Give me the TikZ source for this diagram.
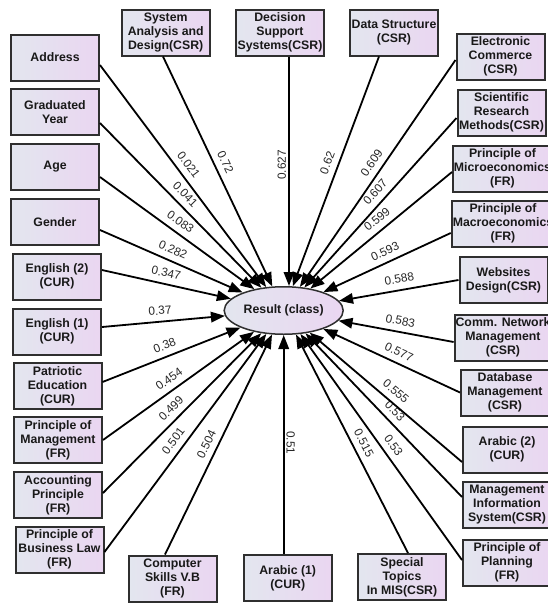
\documentclass[tikz,border=0pt]{standalone}
\usepackage{fontspec}
\setmainfont{Liberation Sans}
\usetikzlibrary{arrows.meta, shapes.geometric}
\definecolor{cleft}{HTML}{E3E6EF}
\definecolor{cright}{HTML}{EAD6F1}
\definecolor{cedge}{HTML}{2F2F2F}

\tikzset{
  var/.style={draw=cedge, line width=2pt, left color=cleft, right color=cright,
    minimum width=88pt, minimum height=46pt, inner sep=1pt, align=center,
    font=\bfseries\fontsize{12.3}{14}\selectfont, text=black!90},
  outcome/.style={ellipse, draw=cedge, line width=1.5pt, left color=cleft, right color=cright,
    minimum width=119pt, minimum height=47.5pt, inner sep=0pt,
    font=\bfseries\fontsize{12.3}{14}\selectfont, text=black!90},
  link/.style={line width=1.8pt, draw=black, -{Triangle[length=14pt,width=10.5pt]}},
  coef/.style={font=\fontsize{11.8}{12}\selectfont, text=black!85, sloped, above=4pt, pos=0.48, inner sep=2pt},
  coefv/.style={font=\fontsize{11.8}{12}\selectfont, text=black!85, above=4pt, pos=0.49, inner sep=2pt}
}

\begin{document}
\begin{tikzpicture}[x=1pt, y=1pt]
  \useasboundingbox (0,0) rectangle (548,-603);

  % Result
  \node[outcome] (result) at (283.7,-310.5) {Result (class)};

  % Left column
  \node[var] (addr)    at (55,-57.5)   {Address};
  \node[var] (gyear)   at (55,-112)    {Graduated\\Year};
  \node[var] (age)     at (55,-167)    {Age};
  \node[var] (gender)  at (55,-222)    {Gender};
  \node[var] (eng2)    at (57,-276.5)  {English (2)\\(CUR)};
  \node[var] (eng1)    at (57,-331.5)  {English (1)\\(CUR)};
  \node[var] (patriot) at (57.5,-386)  {Patriotic\\Education\\(CUR)};
  \node[var] (mgmt)    at (58,-440)    {Principle of\\Management\\(FR)};
  \node[var] (acct)    at (58,-495)    {Accounting\\Principle\\(FR)};
  \node[var] (blaw)    at (59.5,-549.5){Principle of\\Business Law\\(FR)};

  % Top row
  \node[var] (sad) at (165.7,-32.5) {System\\Analysis and\\Design(CSR)};
  \node[var] (dss) at (280,-32.5)   {Decision\\Support\\Systems(CSR)};
  \node[var] (ds)  at (394,-32.5)   {Data Structure\\(CSR)};

  % Right column
  \node[var] (ecom)  at (500.5,-56.7) {Electronic\\Commerce\\(CSR)};
  \node[var] (sci)   at (501.5,-112.5){Scientific\\Research\\Methods(CSR)};
  \node[var] (micro) at (502.5,-168.5){Principle of\\Microeconomics\\(FR)};
  \node[var] (macro) at (503,-223.5)  {Principle of\\Macroeconomics\\(FR)};
  \node[var] (web)   at (503.5,-280)  {Websites\\Design(CSR)};
  \node[var] (comm)  at (503,-337.5)  {Comm. Network\\Management\\(CSR)};
  \node[var] (db)    at (505,-392.5)  {Database\\Management\\(CSR)};
  \node[var] (arab2) at (507,-449.5)  {Arabic (2)\\(CUR)};
  \node[var] (mis)   at (507,-504.5)  {Management\\Information\\System(CSR)};
  \node[var] (plan)  at (507,-562.5)  {Principle of\\Planning\\(FR)};

  % Bottom row
  \node[var] (comp)  at (172.5,-578.5) {Computer\\Skills V.B\\(FR)};
  \node[var] (arab1) at (287.7,-578)   {Arabic (1)\\(CUR)};
  \node[var] (spec)  at (402,-577)     {Special\\Topics\\In MIS(CSR)};

  % Paths into the result
  \draw[link] ([yshift=-7.5pt]addr.east)   -- node[coef] {0.021} (result);
  \draw[link] ([yshift=-11pt]gyear.east)   -- node[coef] {0.041} (result);
  \draw[link] ([yshift=-10pt]age.east)     -- node[coef] {0.083} (result);
  \draw[link] ([yshift=-8pt]gender.east)   -- node[coef] {0.282} (result);
  \draw[link] ([yshift=6.5pt]eng2.east)    -- node[coef] {0.347} (result);
  \draw[link] ([yshift=4.5pt]eng1.east)    -- node[coef] {0.37} (result);
  \draw[link] ([yshift=4pt]patriot.east)   -- node[coef] {0.38} (result);
  \draw[link] (mgmt.east)                  -- node[coef] {0.454} (result);
  \draw[link] ([yshift=2pt]acct.east)      -- node[coef] {0.499} (result);
  \draw[link] ([yshift=-2.5pt]blaw.east)   -- node[coef] {0.501} (result);
  \draw[link] ([xshift=-7.5pt]comp.north)  -- node[coef] {0.504} (result);
  \draw[link] ([xshift=-4pt]arab1.north)   -- node[coefv, rotate=-90] {0.51} (result.south);
  \draw[link] ([xshift=6pt]spec.north)     -- node[coef] {0.515} (result);
  \draw[link] ([yshift=2.5pt]plan.west)    -- node[coef] {0.53} (result);
  \draw[link] ([yshift=7.5pt]mis.west)     -- node[coef] {0.53} (result);
  \draw[link] ([yshift=-12.5pt]arab2.west) -- node[coef] {0.555} (result);
  \draw[link] (db.west)                    -- node[coef] {0.577} (result);
  \draw[link] ([yshift=-4.5pt]comm.west)   -- node[coef] {0.583} (result);
  \draw[link] (web.west)                   -- node[coef] {0.588} (result);
  \draw[link] ([yshift=-9.5pt]macro.west)  -- node[coef] {0.593} (result);
  \draw[link] ([yshift=-3.5pt]micro.west)  -- node[coef] {0.599} (result);
  \draw[link] ([yshift=-5.5pt]sci.west)    -- node[coef] {0.607} (result);
  \draw[link] ([yshift=-3.3pt]ecom.west)   -- node[coef] {0.609} (result);
  \draw[link] ([xshift=-15pt]ds.south)     -- node[coef] {0.62} (result);
  \draw[link] ([xshift=9pt]dss.south)      -- node[coefv, rotate=90] {0.627} ([xshift=5.3pt]result.north);
  \draw[link] ([xshift=-2.7pt]sad.south)   -- node[coef] {0.72} (result);
\end{tikzpicture}
\end{document}
